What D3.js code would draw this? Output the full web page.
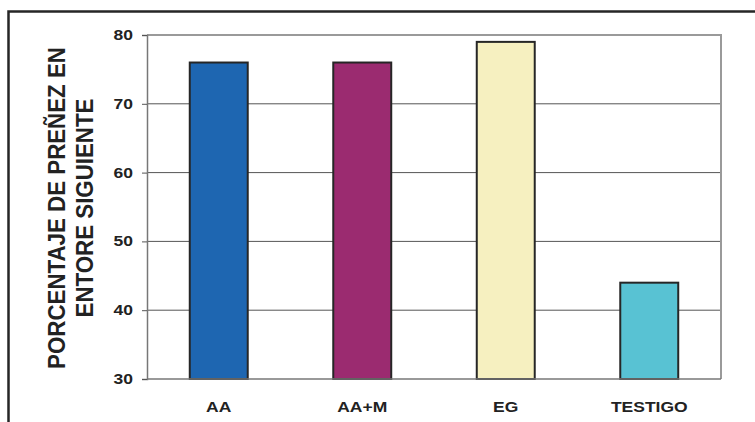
<!DOCTYPE html>
<html>
<head>
<meta charset="utf-8">
<script src="https://cdn.jsdelivr.net/npm/d3@7"></script>
<style>
  html, body { margin: 0; padding: 0; background: #fff; }
  svg { display: block; font-family: "Liberation Sans", Arial, sans-serif; }
</style>
</head>
<body>
<svg id="chart" width="755" height="422"></svg>
<script>
// Pregnancy rate at the following mating season, by treatment
const categories = ["AA", "AA+M", "EG", "TESTIGO"];
const values = [76, 76, 79, 44];
const barColors = ["#1e66b1", "#9b2b70", "#f6f0c0", "#58c2d3"];
const yTicks = [30, 40, 50, 60, 70, 80];
const yTitleLines = ["PORCENTAJE DE PREÑEZ EN", "ENTORE SIGUIENTE"];

const svg = d3.select("#chart");
const W = 755, H = 422;
const plot = { left: 147, top: 35, right: 721, bottom: 379 };
const textStretch = 1.25;

// outer frame (continues past the window on right and bottom)
svg.append("rect")
  .attr("x", 8.5).attr("y", 11.5)
  .attr("width", 900).attr("height", 600)
  .attr("fill", "none").attr("stroke", "#262626").attr("stroke-width", 2.5);

const x = d3.scaleBand()
  .domain(categories)
  .range([plot.left, plot.right])
  .paddingInner(0.596)
  .paddingOuter(0.298);

const y = d3.scaleLinear()
  .domain([30, 80])
  .range([plot.bottom, plot.top]);

// horizontal gridlines
svg.append("g")
  .selectAll("line")
  .data(yTicks.filter(t => t > 30 && t < 80))
  .join("line")
  .attr("x1", plot.left).attr("x2", plot.right)
  .attr("y1", d => y(d)).attr("y2", d => y(d))
  .attr("stroke", "#555").attr("stroke-width", 1);

// plot frame: top and right edges
svg.append("path")
  .attr("d", `M${plot.left},${plot.top}H${plot.right}V${plot.bottom}`)
  .attr("fill", "none").attr("stroke", "#9a9a9a").attr("stroke-width", 2);

// bars
svg.append("g")
  .selectAll("rect")
  .data(categories.map((c, i) => ({ c, v: values[i], color: barColors[i] })))
  .join("rect")
  .attr("x", d => x(d.c))
  .attr("y", d => y(d.v))
  .attr("width", x.bandwidth())
  .attr("height", d => y(30) - y(d.v))
  .attr("fill", d => d.color)
  .attr("stroke", "#262626").attr("stroke-width", 2);

// y axis
const yAxis = svg.append("g")
  .attr("transform", `translate(${plot.left},0)`)
  .call(d3.axisLeft(y).tickValues(yTicks).tickSize(5).tickPadding(9).tickFormat(d3.format("d")));
yAxis.select(".domain").attr("stroke", "#777").attr("stroke-width", 1.5);
yAxis.selectAll(".tick line").attr("stroke", "#555");
yAxis.selectAll(".tick text")
  .attr("x", -14 / textStretch)
  .attr("transform", `scale(${textStretch},1)`)
  .attr("font-size", 14).attr("font-weight", "bold").attr("fill", "#222");

// x baseline
svg.append("line")
  .attr("x1", plot.left).attr("x2", plot.right)
  .attr("y1", plot.bottom).attr("y2", plot.bottom)
  .attr("stroke", "#777").attr("stroke-width", 1.5);

// category labels
svg.append("g")
  .selectAll("text")
  .data(categories)
  .join("text")
  .attr("transform", d => `translate(${x(d) + x.bandwidth() / 2},411.5) scale(${textStretch},1)`)
  .attr("text-anchor", "middle")
  .attr("font-size", 14).attr("font-weight", "bold").attr("fill", "#222")
  .text(d => d);

// y axis title, two lines
svg.append("g")
  .selectAll("text")
  .data(yTitleLines)
  .join("text")
  .attr("transform", (d, i) => `translate(${65 + i * 28},208) rotate(-90) scale(0.93,1)`)
  .attr("text-anchor", "middle")
  .attr("font-size", 24).attr("font-weight", "bold").attr("fill", "#222")
  .text(d => d);
</script>
</body>
</html>
